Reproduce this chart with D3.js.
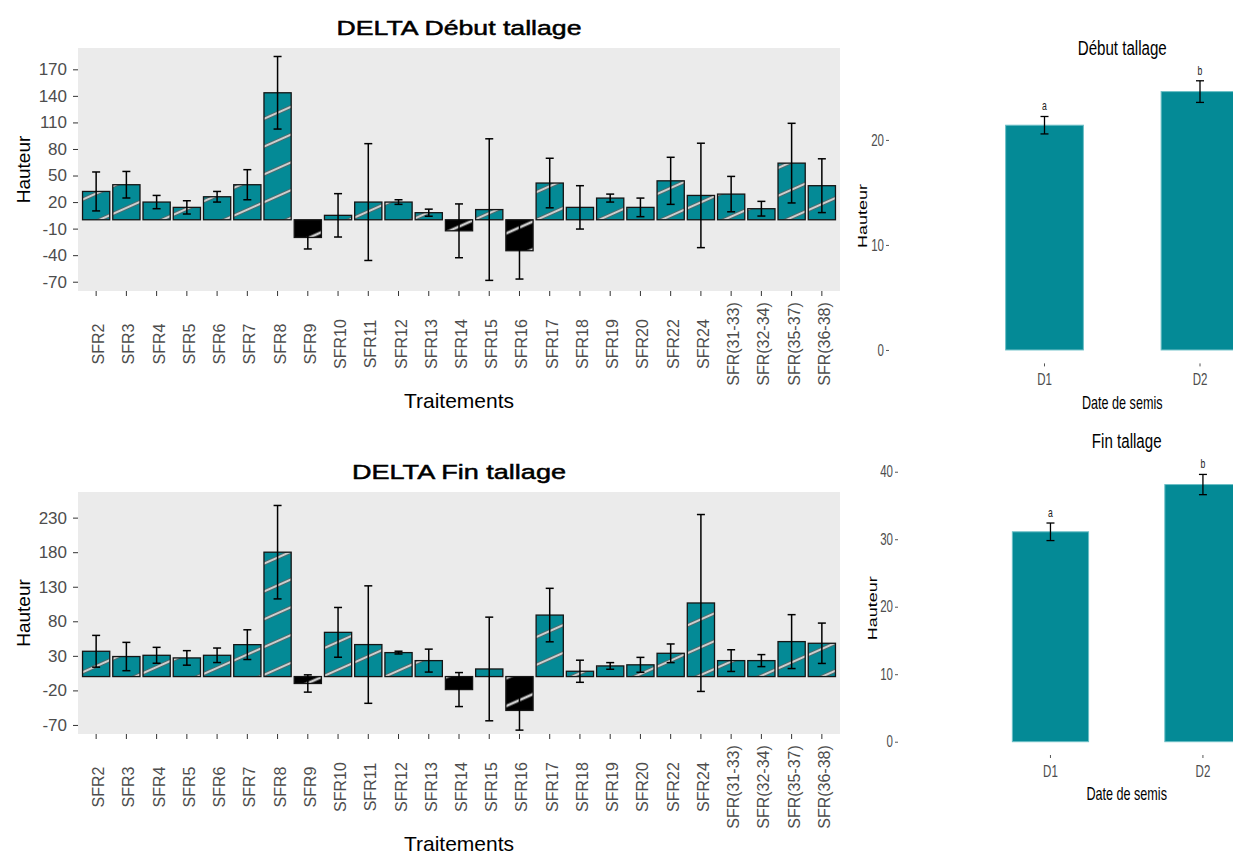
<!DOCTYPE html>
<html>
<head>
<meta charset="utf-8">
<script src="https://cdn.jsdelivr.net/npm/d3@7"></script>
<style>
  body { margin: 0; background: #fff; }
  svg { display: block; }
  text { font-family: "Liberation Sans", Arial, sans-serif; }
</style>
</head>
<body>
<svg id="fig" width="1233" height="857"></svg>
<script>
// Treatments shown on the two DELTA panels
const treatments = ["SFR2", "SFR3", "SFR4", "SFR5", "SFR6", "SFR7", "SFR8", "SFR9", "SFR10",
  "SFR11", "SFR12", "SFR13", "SFR14", "SFR15", "SFR16", "SFR17", "SFR18", "SFR19", "SFR20",
  "SFR22", "SFR24", "SFR(31-33)", "SFR(32-34)", "SFR(35-37)", "SFR(36-38)"];

// DELTA at the start of tillering: mean and standard error per treatment
const debutMeans = [32, 39.6, 20, 14, 26, 39.6, 143.5, -20, 5, 20, 20, 8, -12.5, 11.5, -35,
  41.5, 14, 24.5, 14, 44, 27.5, 29, 12.5, 64, 38.5];
const debutErrors = [22, 15, 7.5, 7.5, 6, 17, 41, 13, 24.5, 66, 2.6, 4, 30.4, 80, 32,
  28, 24.5, 4.5, 10.5, 26.6, 59, 20, 8.3, 45, 30.4];
const debutTicks = [170, 140, 110, 80, 50, 20, -10, -40, -70];

// DELTA at the end of tillering
const finMeans = [36.6, 29, 30.8, 27, 30.8, 46.2, 180, -10, 64, 46.3, 34.7, 23.1, -18.8, 11, -49,
  89, 7.7, 15.4, 17, 33.7, 106.5, 23.1, 23.1, 50.6, 48.2];
const finErrors = [23, 20.5, 11.5, 10.5, 10.5, 21.5, 67.6, 12.5, 36, 85, 2, 16.6, 24.6, 75, 28.5,
  38.7, 16, 4.8, 10.8, 13.5, 128, 15.7, 8.7, 39, 29.2];
const finTicks = [230, 180, 130, 80, 30, -20, -70];

// Height by sowing date
const sowingDates = ["D1", "D2"];
const sowingDebutMeans = [21.4, 24.6];
const sowingDebutErrors = [0.83, 1.03];
const sowingDebutGroups = ["a", "b"];
const sowingDebutTicks = [0, 10, 20];
const sowingFinMeans = [31.1, 38.1];
const sowingFinErrors = [1.3, 1.5];
const sowingFinGroups = ["a", "b"];
const sowingFinTicks = [0, 10, 20, 30, 40];

const TEAL = "#048A96";
const svg = d3.select("#fig");
const plainNumber = d => String(d);

// Diagonal stripe hatching used on the treatment bars
const defs = svg.append("defs");
const pat = defs.append("pattern")
  .attr("id", "stripes")
  .attr("patternUnits", "userSpaceOnUse")
  .attr("width", 60).attr("height", 25.4)
  .attr("patternTransform", "rotate(-24)");
pat.append("line").attr("x1", 0).attr("x2", 60).attr("y1", 12.7).attr("y2", 12.7)
  .attr("stroke", "#606060").attr("stroke-width", 3.2);
pat.append("line").attr("x1", 0).attr("x2", 60).attr("y1", 12.7).attr("y2", 12.7)
  .attr("stroke", "#f2f2f2").attr("stroke-width", 1.5);

function styleAxis(g, size, textColor) {
  g.attr("font-size", null).attr("font-family", null);
  g.select(".domain").remove();
  g.selectAll(".tick line").attr("stroke", "#333");
  g.selectAll(".tick text").attr("fill", textColor).style("font-size", size + "px");
}

function deltaPanel(o) {
  const left = 78, right = 840;
  const x = d3.scaleBand().domain(treatments).range([left, right])
    .paddingInner(0.1).paddingOuter(0.15);
  const y = d3.scaleLinear().domain(o.yDomain).range([o.bottom, o.top]);
  const g = svg.append("g");

  g.append("rect").attr("x", left).attr("y", o.top)
    .attr("width", right - left).attr("height", o.bottom - o.top).attr("fill", "#EBEBEB");

  const rows = treatments.map((t, i) => ({ t, m: o.means[i], e: o.errors[i] }));
  const top = d => y(Math.max(0, d.m));
  const h = d => Math.abs(y(d.m) - y(0));

  g.selectAll("rect.bar").data(rows).join("rect").attr("class", "bar")
    .attr("x", d => x(d.t)).attr("y", top).attr("width", x.bandwidth()).attr("height", h)
    .attr("fill", d => d.m < 0 ? "#000" : TEAL);
  g.selectAll("rect.hatch").data(rows).join("rect").attr("class", "hatch")
    .attr("x", d => x(d.t)).attr("y", top).attr("width", x.bandwidth()).attr("height", h)
    .attr("fill", "url(#stripes)").attr("stroke", "#151515").attr("stroke-width", 1.3);

  const cx = d => x(d.t) + x.bandwidth() / 2;
  const eb = g.selectAll("g.err").data(rows).join("g").attr("class", "err")
    .attr("stroke", "#000").attr("stroke-width", 1.5);
  eb.append("line").attr("x1", cx).attr("x2", cx)
    .attr("y1", d => y(d.m - d.e)).attr("y2", d => y(d.m + d.e));
  eb.append("line").attr("x1", d => cx(d) - 4).attr("x2", d => cx(d) + 4)
    .attr("y1", d => y(d.m + d.e)).attr("y2", d => y(d.m + d.e));
  eb.append("line").attr("x1", d => cx(d) - 4).attr("x2", d => cx(d) + 4)
    .attr("y1", d => y(d.m - d.e)).attr("y2", d => y(d.m - d.e));

  const ya = g.append("g").attr("transform", `translate(${left},0)`)
    .call(d3.axisLeft(y).tickValues(o.ticks).tickFormat(plainNumber).tickSize(5).tickPadding(6));
  styleAxis(ya, 17, "#4D4D4D");

  const xa = g.append("g").attr("transform", `translate(0,${o.bottom})`)
    .call(d3.axisBottom(x).tickSize(5));
  styleAxis(xa, 16, "#4D4D4D");
  xa.selectAll(".tick text")
    .attr("transform", "rotate(-90)")
    .attr("x", -53).attr("y", 0).attr("dy", "0.5em")
    .attr("text-anchor", "middle");

  g.append("text").attr("x", (left + right) / 2).attr("y", o.titleY)
    .attr("text-anchor", "middle").style("font-size", "21px")
    .attr("stroke", "#000").attr("stroke-width", 0.5)
    .attr("textLength", o.titleWidth).attr("lengthAdjust", "spacingAndGlyphs")
    .text(o.title);
  g.append("text").attr("transform", `translate(30,${(o.top + o.bottom) / 2}) rotate(-90)`)
    .attr("text-anchor", "middle").style("font-size", "19px").text("Hauteur");
  g.append("text").attr("x", (left + right) / 2).attr("y", o.bottom + 117)
    .attr("text-anchor", "middle").style("font-size", "21px").text("Traitements");
}

// Narrow text for the sowing-date panels
const NARROW = 0.72;
function narrowText(g, x, y, str, size, anchor, color) {
  return g.append("text")
    .attr("transform", `translate(${x},${y}) scale(${NARROW},1)`)
    .attr("text-anchor", anchor).attr("fill", color || "#000")
    .style("font-size", size + "px").text(str);
}
function narrowAxisText(axisG) {
  axisG.selectAll(".tick text").each(function () {
    const t = d3.select(this);
    const tx = +t.attr("x") || 0, ty = +t.attr("y") || 0;
    t.attr("x", 0).attr("y", 0).attr("transform", `translate(${tx},${ty}) scale(${NARROW},1)`);
  });
}

function sowingPanel(o) {
  const x = d3.scaleBand().domain(sowingDates).range([o.left, o.right])
    .paddingInner(0.5).paddingOuter(0.75);
  const y = d3.scaleLinear().domain(o.yDomain).range([o.bottom, o.top]);
  const g = svg.append("g");
  const rows = sowingDates.map((d, i) => ({ d, m: o.means[i], e: o.errors[i], grp: o.groups[i] }));

  g.selectAll("rect.bar").data(rows).join("rect").attr("class", "bar")
    .attr("x", d => x(d.d)).attr("y", d => y(d.m)).attr("width", x.bandwidth())
    .attr("height", d => y(0) - y(d.m))
    .attr("fill", TEAL).attr("stroke", "#6cbfc6").attr("stroke-width", 1);

  const cx = d => x(d.d) + x.bandwidth() / 2;
  const eb = g.selectAll("g.err").data(rows).join("g").attr("class", "err")
    .attr("stroke", "#000").attr("stroke-width", 1.3);
  eb.append("line").attr("x1", cx).attr("x2", cx)
    .attr("y1", d => y(d.m - d.e)).attr("y2", d => y(d.m + d.e));
  eb.append("line").attr("x1", d => cx(d) - 4).attr("x2", d => cx(d) + 4)
    .attr("y1", d => y(d.m + d.e)).attr("y2", d => y(d.m + d.e));
  eb.append("line").attr("x1", d => cx(d) - 4).attr("x2", d => cx(d) + 4)
    .attr("y1", d => y(d.m - d.e)).attr("y2", d => y(d.m - d.e));

  rows.forEach(d => narrowText(g, cx(d), y(d.m + d.e) - 6, d.grp, 12, "middle", "#222"));

  const ya = g.append("g").attr("transform", `translate(${o.left},0)`)
    .call(d3.axisLeft(y).tickValues(o.ticks).tickFormat(plainNumber).tickSize(3).tickPadding(2));
  styleAxis(ya, 16, "#4D4D4D");
  ya.selectAll(".tick line").attr("stroke", "#555");
  narrowAxisText(ya);

  const xa = g.append("g").attr("transform", `translate(0,${o.bottom})`)
    .call(d3.axisBottom(x).tickSize(3).tickPadding(7.6));
  styleAxis(xa, 16, "#4D4D4D");
  xa.selectAll(".tick line").attr("stroke", "#555");
  narrowAxisText(xa);

  const mid = (o.left + o.right) / 2;
  narrowText(g, mid, o.titleY, o.title, 21, "middle");
  narrowText(g, mid, o.xLabelY, "Date de semis", 17.5, "middle");
  g.append("text")
    .attr("transform", `translate(${o.yLabelX},${(o.top + o.bottom) / 2}) rotate(-90) scale(1,${NARROW})`)
    .attr("text-anchor", "middle").style("font-size", "18px").text("Hauteur");
}

deltaPanel({
  title: "DELTA Début tallage", means: debutMeans, errors: debutErrors, ticks: debutTicks,
  yDomain: [-80.5, 194.1], top: 48, bottom: 291, titleY: 35, titleWidth: 245
});
deltaPanel({
  title: "DELTA Fin tallage", means: finMeans, errors: finErrors, ticks: finTicks,
  yDomain: [-83.1, 267.1], top: 492, bottom: 734, titleY: 479, titleWidth: 214
});
sowingPanel({
  title: "Début tallage", means: sowingDebutMeans, errors: sowingDebutErrors,
  groups: sowingDebutGroups, ticks: sowingDebutTicks,
  left: 889, right: 1355.5, yDomain: [-1.28, 26.8], bottom: 363.4, top: 68.5,
  titleY: 55, xLabelY: 409, yLabelX: 867
});
sowingPanel({
  title: "Fin tallage", means: sowingFinMeans, errors: sowingFinErrors,
  groups: sowingFinGroups, ticks: sowingFinTicks,
  left: 898, right: 1355.4, yDomain: [-1.97, 41.5], bottom: 755, top: 461.6,
  titleY: 448, xLabelY: 800, yLabelX: 877
});
</script>
</body>
</html>
